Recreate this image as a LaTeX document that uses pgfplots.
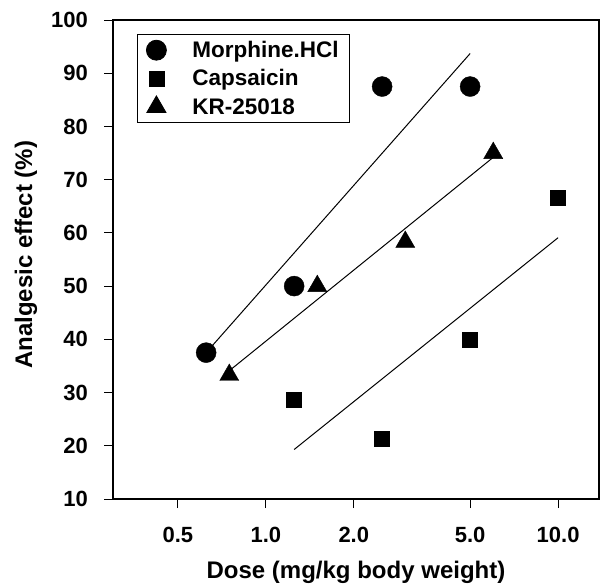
\documentclass[border=0pt]{standalone}
\usepackage{pgfplots}
\pgfplotsset{compat=1.18}
\usepackage{fontspec}
\setmainfont{Liberation Sans}
\begin{document}
\begin{tikzpicture}
\begin{axis}[
  at={(0,0)}, anchor=south west,
  scale only axis, width=486pt, height=479pt,
  xmode=log, xmin=0.3, xmax=13.8, ymin=10, ymax=100,
  xtick={0.5,1,2,5,10}, xticklabels={0.5,1.0,2.0,5.0,10.0},
  ytick={10,20,...,100},
  minor xtick={},
  tick align=outside, major tick length=9pt,
  xtick pos=bottom, ytick pos=left,
  axis line style={line width=1.1pt}, every tick/.style={black, line width=0.8pt},
  /pgf/number format/assume math mode=true,
  tick label style={font=\fontsize{22}{26}\selectfont\bfseries},
  xticklabel style={anchor=center, yshift=-27pt},
  yticklabel style={anchor=east, inner sep=0pt, xshift=-16pt},
  xlabel={Dose (mg/kg body weight)},
  ylabel={Analgesic effect (\%)},
  every axis x label/.style={at={(axis description cs:0.5,0)}, anchor=base, yshift=-79pt, font=\fontsize{24}{28}\selectfont\bfseries},
  every axis y label/.style={at={(axis description cs:-0.179,0.51)}, rotate=90, anchor=center, font=\fontsize{24}{28}\selectfont\bfseries},
  legend style={at={(0.0494,0.971)}, anchor=north west, draw=black, line width=0.8pt,
    font=\fontsize{22.5}{26}\selectfont\bfseries, row sep=6.5pt, inner xsep=9pt, inner ysep=5pt},
  legend cell align=left,
]
\addplot[only marks, mark=*, mark size=10pt, black] coordinates {(0.625,37.5) (1.25,50) (2.5,87.5) (5,87.5)};
\addlegendentry{\hspace{24pt}Morphine.HCl}
\addplot[only marks, mark=square*, mark size=7.5pt, black] coordinates {(1.25,28.6) (2.5,21.4) (5,40) (10,66.7)};
\addlegendentry{\hspace{24pt}Capsaicin}
\addplot[only marks, mark=triangle*, mark size=11pt, black] coordinates {(0.75,33.3) (1.5,50) (3,58.3) (6,75)};
\addlegendentry{\hspace{24pt}KR-25018}
\addplot[black, line width=1pt, forget plot] coordinates {(0.625,37.5) (5,93.7)};
\addplot[black, line width=1pt, forget plot] coordinates {(1.25,19.3) (10,59.1)};
\addplot[black, line width=1pt, forget plot] coordinates {(0.75,34.1) (6,74.2)};
\end{axis}
\pgfresetboundingbox
\path (-113pt,-85pt) rectangle (487pt,499pt);
\end{tikzpicture}
\end{document}
